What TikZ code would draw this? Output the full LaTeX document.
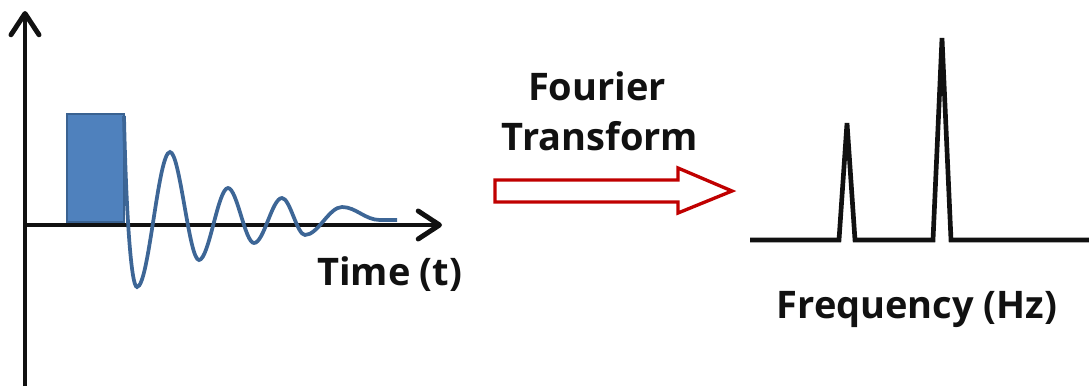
\documentclass[tikz,border=0pt]{standalone}
\usepackage{fontspec}
\setmainfont{Open Sans}
\usetikzlibrary{arrows.meta}
\definecolor{pulsefill}{HTML}{4F81BD}
\definecolor{pulseedge}{HTML}{3A6291}
\definecolor{wavecol}{HTML}{3D6696}
\definecolor{ftred}{HTML}{C00000}
\definecolor{ink}{HTML}{111111}
\tikzset{
  axis/.style={line width=3.7pt, ink, -{Straight Barb[length=16pt,width=21pt,line width=3.7pt,round]}},
  pulse/.style={fill=pulsefill, draw=pulseedge, line width=1.5pt},
  wave/.style={draw=wavecol, line width=2.8pt},
  spectrum/.style={draw=ink, line width=3.5pt},
  ftarrow/.style={draw=ftred, fill=white, line width=2.5pt},
  lbl/.style={font=\fontsize{28.5}{34}\selectfont\bfseries, text=ink, inner sep=0pt}
}
\begin{document}
\begin{tikzpicture}[x=0.75pt,y=-0.75pt]
\useasboundingbox (0,0) rectangle (1089,387);
% axes
\coordinate (origin) at (25,225);
\coordinate (ybot) at (25,386);
\coordinate (ytop) at (25,11);
\coordinate (xend) at (442,225);
\draw[axis] (ybot) -- (ytop);
\draw[axis] (origin) -- (xend);
% pulse
\draw[pulse] (67,114) rectangle (124,222);
% FID wave
\draw[wave] (124,116) .. controls (126,210) and (131,287) .. (137,287)
 .. controls (149,287) and (158,152) .. (170,152)
 .. controls (180,152) and (189,260) .. (199,260)
 .. controls (209,260) and (218,188) .. (228,188)
 .. controls (237,188) and (245,243) .. (254,243)
 .. controls (264,243) and (272,198) .. (282,198)
 .. controls (290,198) and (297,235) .. (305,235)
 .. controls (318,235) and (329,207) .. (342,207)
 .. controls (356,207) and (365,220) .. (380,220)
 -- (397,220);
\node[lbl, anchor=base west] (time) at (317,285) {Time\hspace{7pt}(t)};
% Fourier transform arrow
\node[lbl, anchor=base] (ft1) at (597,100) {Fourier};
\node[lbl, anchor=base] (ft2) at (600,150) {Transform};
\draw[ftarrow] (495,180) -- (678,180) -- (678,168) -- (732,191) -- (678,213) -- (678,202) -- (495,202) -- cycle;
% spectrum
\draw[spectrum] (750,240) -- (839,240) -- (847,123) -- (855,240) -- (933,240) -- (942,38) -- (951,240) -- (1089,240);
\node[lbl, anchor=base] (freq) at (917,318) {Frequency (Hz)};
\end{tikzpicture}
\end{document}
